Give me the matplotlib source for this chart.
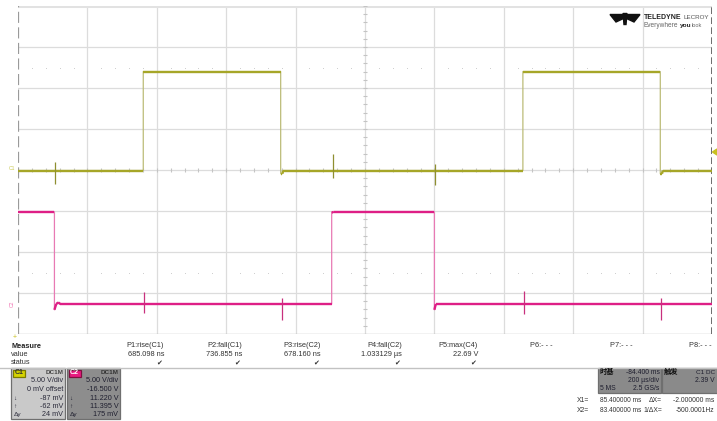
import numpy as np
import matplotlib
matplotlib.use("Agg")
import matplotlib.pyplot as plt
from matplotlib.patches import Rectangle, Polygon

plt.rcParams['font.family'] = ['Liberation Sans', 'Noto Sans CJK SC', 'DejaVu Sans']

W, H = 717, 421

# ---- acquisition settings ----
time_per_div_us = 200.0
c1_volts_per_div = 5.0
c1_offset_v = 0.0
c2_volts_per_div = 5.0
c2_offset_v = -16.5

# ---- channel 1 (yellow): time in us, level in V ----
c1_t = [-1000, -639, -639, -243, -243, -238, -236, 455, 455, 851, 851, 856, 858, 1000]
c1_v = [-0.07, -0.07, 12.0, 12.0, -0.45, -0.45, -0.07, -0.07, 12.0, 12.0, -0.45, -0.45, -0.07, -0.07]

# ---- channel 2 (magenta) ----
c2_t = [-1000, -895, -895, -890, -884, -878, -96, -96, -90, 200, 200, 204, 210, 1000]
c2_v = [11.40, 11.40, -0.55, 0.15, 0.35, 0.15, 0.15, 11.30, 11.40, 11.40, -0.55, 0.15, 0.15, 0.15]

# crosstalk glitches: time, peak up (V), peak down (V)
c1_glitch_t = [-895, -96, 200]
c1_glitch_up = [1.0, 2.0, 0.85]
c1_glitch_dn = [1.6, 0.85, 1.7]
c2_glitch_t = [-639, -243, 455, 851]
c2_glitch_up = [1.5, 0.7, 1.6, 0.7]
c2_glitch_dn = [1.1, 2.0, 1.2, 2.0]

# ---- measurement table ----
meas_names = ["P1:rise(C1)", "P2:fall(C1)", "P3:rise(C2)", "P4:fall(C2)",
              "P5:max(C4)", "P6:- - -", "P7:- - -", "P8:- - -"]
meas_values = ["685.098 ns", "736.855 ns", "678.160 ns", "1.033129 µs",
               "22.69 V", "", "", ""]
meas_status = [True, True, True, True, True, False, False, False]

c1_info = ["5.00 V/div", "0 mV offset", "-87 mV", "-62 mV", "24 mV"]
c2_info = ["5.00 V/div", "-16.500 V", "11.220 V", "11.395 V", "175 mV"]

timebase = ["-84.400 ms", "200 µs/div", "5 MS", "2.5 GS/s"]
trigger = ["C1 DC", "2.39 V"]
cursor_rows = [("X1=", "85.400000 ms", "ΔX=", "-2.000000 ms"),
               ("X2=", "83.400000 ms", "1/ΔX=", "-500.0001Hz")]

YEL = "#a6a628"
YEL_EDGE = "#bcbc78"
MAG = "#de1f86"
MAG_EDGE = "#e87ab4"
GRID = "#dcdcdc"
TXT = "#2a2a3a"

fig = plt.figure(figsize=(W / 100, H / 100), dpi=100)
fig.patch.set_facecolor("white")
renderer = fig.canvas.get_renderer()


def fx(x):
    return x / W


def fy(y):
    return 1 - y / H


def fit_text(x0, x1, y, s, size=5.0, **kw):
    """Place text left-aligned at x0 and scale its size so it ends at x1."""
    t = fig.text(fx(x0), fy(y), s, fontsize=size, ha="left", va="center", **kw)
    w = t.get_window_extent(renderer).width
    if w > 0:
        t.set_fontsize(size * (x1 - x0) / w)
    return t


# ---- scope grid ----
gl, gr, gt, gb = 18, 712, 6, 334
ax = fig.add_axes([fx(gl), fy(gb), (gr - gl) / W, (gb - gt) / H])
ax.set_xlim(-5 * time_per_div_us, 5 * time_per_div_us)
ax.set_ylim(-4, 4)
ax.axis("off")

for k in range(-4, 6):
    ax.axvline(k * time_per_div_us, color=GRID, lw=0.9, zorder=1)
for k in range(-3, 4):
    ax.axhline(k, color=GRID, lw=0.9, zorder=1)
ax.axhline(4, color="#e2e2e2", lw=2.2, zorder=1)
ax.axhline(-4, color="#bdbdbd", lw=1.0, zorder=1)
ax.axvline(-5 * time_per_div_us, color="#9a9a9a", lw=1.6, ls=(0, (5, 2)), zorder=2)
ax.axvline(5 * time_per_div_us, color="#555555", lw=1.2, ls=(0, (4, 2)), zorder=2)

# minor ticks on the centre axes and dotted rows
minor_x = np.arange(-1000, 1001, time_per_div_us / 5)
minor_y = np.arange(-4, 4.01, 0.2)
ax.vlines(minor_x, -0.05, 0.05, color="#c4c4c4", lw=0.8, zorder=1)
ax.hlines(minor_y, -6, 6, color="#c4c4c4", lw=0.8, zorder=1)
dots_x = [x for x in minor_x if abs(x / time_per_div_us - round(x / time_per_div_us)) > 1e-6]
for yy in (2.5, -2.5):
    ax.scatter(dots_x, [yy] * len(dots_x), s=0.5, color="#cdcdcd", zorder=1, linewidths=0)


def to_div(v, vdiv, off):
    return (np.asarray(v) + off) / vdiv


def draw_trace(t, v, vdiv, off, col, edge_col):
    y = to_div(v, vdiv, off)
    ax.plot(t, y, color=edge_col, lw=0.9, zorder=3)
    for i in range(len(t) - 1):
        if t[i + 1] != t[i]:
            ax.plot([t[i], t[i + 1]], [y[i], y[i + 1]], color=col, lw=1.7,
                    solid_capstyle="butt", zorder=4)


def draw_glitches(gt_, up, dn, level_t, level_v, vdiv, off, col):
    for t0, u, d in zip(gt_, up, dn):
        base = np.interp(t0 + 3, level_t, level_v)
        ax.vlines(t0 + 3, to_div(base - d, vdiv, off), to_div(base + u, vdiv, off),
                  color=col, lw=0.9, zorder=5)


draw_trace(c1_t, c1_v, c1_volts_per_div, c1_offset_v, YEL, YEL_EDGE)
draw_trace(c2_t, c2_v, c2_volts_per_div, c2_offset_v, MAG, MAG_EDGE)
draw_glitches(c1_glitch_t, c1_glitch_up, c1_glitch_dn, c1_t, c1_v,
              c1_volts_per_div, c1_offset_v, "#8f8f30")
draw_glitches(c2_glitch_t, c2_glitch_up, c2_glitch_dn, c2_t, c2_v,
              c2_volts_per_div, c2_offset_v, "#c8307e")

# channel markers at the left edge and trigger level at the right edge
fig.text(fx(12), fy(168), "C1", color="#c8c850", fontsize=3.6, ha="center", va="center")
fig.text(fx(12), fy(304), "C2", color="#f070b0", fontsize=3.6, ha="center", va="center",
         rotation=90)
fig.text(fx(15), fy(337), "+", color="#c8c020", fontsize=5, ha="center", va="center")
fig.patches.append(Polygon([[fx(717), fy(149)], [fx(717), fy(155)], [fx(712.5), fy(152)]],
                           closed=True, color="#c8c020", transform=fig.transFigure))

# ---- logo ----
logo = [
    [[610, 14.5], [623.5, 14.5], [623.5, 18.5], [616, 22]],
    [[640, 14.5], [626.5, 14.5], [626.5, 18.5], [634, 22]],
    [[623, 13.5], [627, 13.5], [626, 24.5], [624, 24.5]],
]
for poly in logo:
    fig.patches.append(Polygon([[fx(x), fy(y)] for x, y in poly], closed=True,
                               color="#111111", transform=fig.transFigure))
fit_text(644, 682, 17.5, "TELEDYNE", fontweight="bold", color="#222")
fit_text(684, 710, 17.5, "LECROY", color="#555")
fit_text(644, 679, 25.5, "Everywhere", color="#666")
fit_text(679.5, 691, 25.5, "you", fontweight="bold", color="#222")
fit_text(691.5, 702, 25.5, "look", color="#666")

# ---- measurement area ----
FS = 5.3
fig.text(fx(11), fy(346), "Measure", fontsize=FS, fontweight="bold", color="#222", va="center")
fig.text(fx(11), fy(354.5), "value", fontsize=FS, color="#333", va="center")
fig.text(fx(11), fy(363), "status", fontsize=FS, color="#333", va="center")
meas_right = [164, 242, 321, 402, 478, 553, 633, 712]
for name, val, ok, xr in zip(meas_names, meas_values, meas_status, meas_right):
    fig.text(fx(xr), fy(345.5), name, fontsize=FS, color="#333", ha="right", va="center")
    if val:
        fig.text(fx(xr), fy(354.5), val, fontsize=FS, color="#333", ha="right", va="center")
    if ok:
        fig.text(fx(xr - 5), fy(363), "✔", fontsize=5, color="#333", ha="center", va="center",
                 family="DejaVu Sans")

fig.add_artist(plt.Line2D([0, 1], [fy(367.5), fy(367.5)], color="#c2c2c2", lw=1.0))


def box(x0, y0, x1, y1, fc, ec="#6f6f6f"):
    fig.patches.append(Rectangle((fx(x0), fy(y1)), fx(x1) - fx(x0), fy(y0) - fy(y1),
                                 facecolor=fc, edgecolor=ec, lw=0.9,
                                 transform=fig.transFigure))


FSB = 5.2
row_y = [381, 389.5, 398, 406, 414.5]
# channel 1 descriptor
box(11, 368, 65, 419, "#c9c9c9")
box(12.5, 369.5, 25, 376.5, "#d6d400", ec="#7a7a00")
fig.text(fx(18.7), fy(373), "C1", fontsize=5, fontweight="bold", color="#333",
         ha="center", va="center")
fig.text(fx(63.5), fy(372.5), "DC1M", fontsize=4.6, fontweight="bold", color="#444",
         ha="right", va="center")
for txt, yy in zip(c1_info, row_y):
    fig.text(fx(63.5), fy(yy), txt, fontsize=FSB, color=TXT, ha="right", va="center")
for sym, yy in zip(["↓", "↑", "Δy"], row_y[2:]):
    fig.text(fx(13.5), fy(yy), sym, fontsize=4.6, color=TXT, ha="left", va="center")

# channel 2 descriptor
box(67, 368, 120, 419, "#8d8d8d")
box(68.5, 369.5, 81, 376.5, "#e8197f", ec="#801040")
fig.text(fx(74.7), fy(373), "C2", fontsize=5, fontweight="bold", color="white",
         ha="center", va="center")
fig.text(fx(118.5), fy(372.5), "DC1M", fontsize=4.6, fontweight="bold", color="#333",
         ha="right", va="center")
for txt, yy in zip(c2_info, row_y):
    fig.text(fx(118.5), fy(yy), txt, fontsize=FSB, color="#1f1f2f", ha="right", va="center")
for sym, yy in zip(["↓", "↑", "Δy"], row_y[2:]):
    fig.text(fx(69.5), fy(yy), sym, fontsize=4.6, color="#1f1f2f", ha="left", va="center")

# timebase descriptor
box(597.5, 367.5, 661, 393, "#8a8a8a")
fig.text(fx(599.5), fy(372.5), "时基", fontsize=5.2, fontweight="bold", color="#111",
         ha="left", va="center")
fig.text(fx(659.5), fy(372.5), timebase[0], fontsize=4.9, color="#1f1f2f", ha="right", va="center")
fig.text(fx(659.5), fy(381), timebase[1], fontsize=4.9, color="#1f1f2f", ha="right", va="center")
fig.text(fx(599.5), fy(389), timebase[2], fontsize=4.9, color="#1f1f2f", ha="left", va="center")
fig.text(fx(659.5), fy(389), timebase[3], fontsize=4.9, color="#1f1f2f", ha="right", va="center")

# trigger descriptor
box(662, 367.5, 720, 393, "#8a8a8a")
fig.text(fx(664), fy(372.5), "触发", fontsize=5.2, fontweight="bold", color="#111",
         ha="left", va="center")
fig.text(fx(715), fy(372.5), trigger[0], fontsize=4.6, color="#1f1f2f", ha="right", va="center")
fig.text(fx(715), fy(381), trigger[1], fontsize=4.9, color="#1f1f2f", ha="right", va="center")

# cursor readout
for (a, b, c, d), yy in zip(cursor_rows, [401, 411]):
    fig.text(fx(577), fy(yy), a, fontsize=4.9, color="#333", ha="left", va="center")
    fit_text(600, 642, yy, b, color="#333")
    fig.text(fx(662), fy(yy), c, fontsize=4.9, color="#333", ha="right", va="center")
    t = fig.text(fx(714), fy(yy), d, fontsize=4.9, color="#333", ha="right", va="center")

fig.savefig("out.png", dpi=100, facecolor="white")
